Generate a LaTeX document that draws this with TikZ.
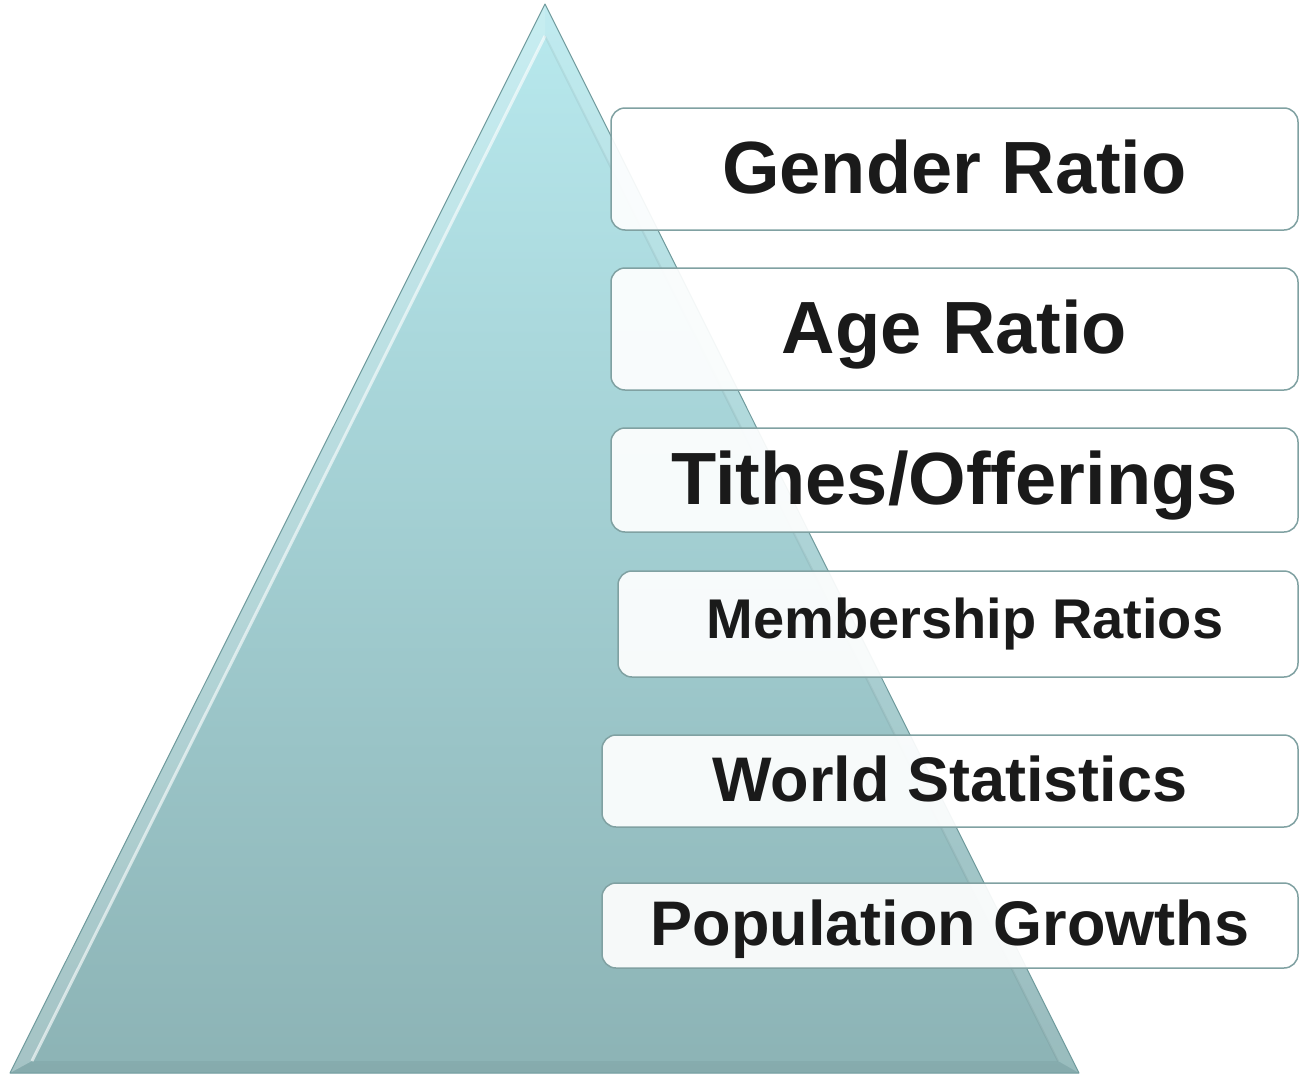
\documentclass[tikz,border=0pt]{standalone}
\usepackage{fontspec}
\setmainfont{Liberation Sans}
\definecolor{tritop}{HTML}{B8E9EE}
\definecolor{tribot}{HTML}{8CB3B5}
\definecolor{triedge}{HTML}{6F9A9C}
\definecolor{boxedge}{HTML}{80A1A2}
\definecolor{boxtext}{HTML}{1A1A1A}
\tikzset{
  ratiobox/.style={draw=boxedge, line width=1.5pt, fill=white, fill opacity=0.92,
    text opacity=1, text=boxtext, rounded corners=14pt, inner sep=0pt, align=center},
  bigtext/.style={font=\fontsize{74}{80}\selectfont\bfseries, text height=48pt, text depth=0pt},
  midtext/.style={font=\fontsize{63}{70}\selectfont\bfseries, text height=40pt, text depth=0pt},
  smalltext/.style={font=\fontsize{56}{62}\selectfont\bfseries, text height=29pt, text depth=0pt},
}
\begin{document}
\begin{tikzpicture}[x=1pt,y=-1pt]
  \useasboundingbox (0,0) rectangle (1299,1074);
  % pyramid, outer and inner corners of the bevel
  \coordinate (apex) at (545,4);
  \coordinate (baseL) at (10,1073);
  \coordinate (baseR) at (1079,1073);
  \coordinate (innerapex) at (545,36);
  \coordinate (innerL) at (32,1061);
  \coordinate (innerR) at (1058,1061);
  \shade [top color=tritop, bottom color=tribot] (apex) -- (baseL) -- (baseR) -- cycle;
  \fill [white, opacity=0.22] (apex) -- (baseL) -- (innerL) -- (innerapex) -- cycle;
  \fill [white, opacity=0.12] (apex) -- (baseR) -- (innerR) -- (innerapex) -- cycle;
  \fill [black, opacity=0.04] (baseL) -- (baseR) -- (innerR) -- (innerL) -- cycle;
  \draw [white, opacity=0.6, line width=3pt] (innerapex) -- (innerL);
  \draw [black, opacity=0.05, line width=2pt] (innerapex) -- (innerR);
  \draw [triedge, line width=1pt, line join=round] (apex) -- (baseL) -- (baseR) -- cycle;

  % boxes
  \node [ratiobox, bigtext, minimum width=687pt, minimum height=122pt] (gender) at (954.5,169) {Gender Ratio};
  \node [ratiobox, bigtext, minimum width=687pt, minimum height=122pt] (age) at (954.5,329) {Age Ratio};
  \node [ratiobox, bigtext, minimum width=687pt, minimum height=104pt] (tithes) at (954.5,480) {Tithes/Offerings};
  \node [ratiobox, smalltext, minimum width=680pt, minimum height=106pt] (member) at (958,624) {\hspace*{14pt}Membership Ratios};
  \node [ratiobox, midtext, minimum width=696pt, minimum height=92pt] (world) at (950,781) {World Statistics};
  \node [ratiobox, midtext, minimum width=696pt, minimum height=85pt] (popul) at (950,925.5) {Population Growths};
\end{tikzpicture}
\end{document}
